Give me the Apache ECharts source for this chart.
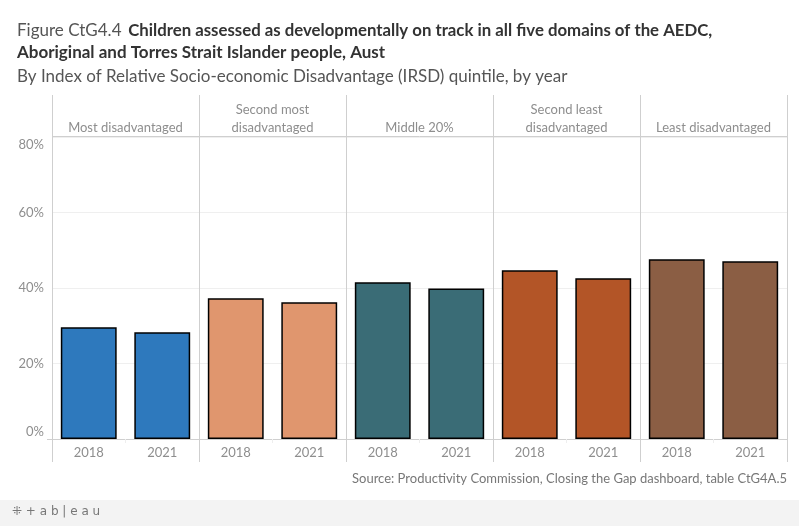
<!DOCTYPE html>
<html><head><meta charset="utf-8">
<script src="https://cdn.jsdelivr.net/npm/echarts@6/dist/echarts.min.js"></script>
<style>html,body{margin:0;padding:0;background:#fff}#c{width:799px;height:526px}</style>
</head><body><div id="c"></div>
<script>
const quintiles = ['Most disadvantaged', 'Second most\ndisadvantaged', 'Middle 20%', 'Second least\ndisadvantaged', 'Least disadvantaged'];
const years = ['2018', '2021'];
const values2018 = [29.6, 37.3, 41.5, 44.7, 47.6];
const values2021 = [28.3, 36.2, 39.9, 42.6, 47.1];
const colors = ['#2e79bd', '#e0966e', '#3a6c76', '#b35527', '#8b5e44'];
const yTicks = [0, 20, 40, 60, 80];

const FONT = 'Lato';
const chart = echarts.init(document.getElementById('c'), null, {renderer: 'canvas'});
const L0 = 52, PW = 147, TOP = 137, H = 302, HEAD = 95, BOT = 462;

const grids = [], xAxes = [], yAxes = [], series = [], graphics = [];
quintiles.forEach((q, i) => {
  grids.push({left: L0 + PW * i, width: PW, top: TOP, height: H, containLabel: false});
  xAxes.push({
    type: 'category', gridIndex: i, data: years,
    axisLine: {show: true, lineStyle: {color: '#cfcfcf', width: 1}},
    axisTick: {show: true, alignWithLabel: false, length: 4, lineStyle: {color: '#eeeeee'}},
    axisLabel: {color: '#8e8e8e', fontSize: 13, fontFamily: FONT, margin: 7, interval: 0},
  });
  yAxes.push({
    type: 'value', gridIndex: i, min: yTicks[0], max: yTicks[yTicks.length - 1], interval: 20,
    axisLine: {show: false}, axisTick: {show: false},
    axisLabel: {show: i === 0, color: '#8e8e8e', fontSize: 13, fontFamily: FONT, margin: 8,
      formatter: v => v === 80 ? '{dn|' + v + '%}' : (v === 0 ? '{up|' + v + '%}' : v + '%'),
      rich: {
        dn: {color: '#8e8e8e', fontSize: 13, fontFamily: FONT, padding: [16, 0, 0, 0]},
        up: {color: '#8e8e8e', fontSize: 13, fontFamily: FONT, padding: [0, 0, 14, 0]},
      }},
    splitLine: {show: true, lineStyle: {color: '#efefef', width: 1}},
  });
  series.push({
    type: 'bar', xAxisIndex: i, yAxisIndex: i,
    data: [values2018[i], values2021[i]],
    barWidth: '76%',
    itemStyle: {color: colors[i], borderColor: '#000', borderWidth: 1.5},
    silent: true,
  });
  graphics.push({
    type: 'text', x: L0 + PW * i + PW / 2, y: 137,
    style: {text: q, textAlign: 'center', textVerticalAlign: 'bottom', align: 'center', verticalAlign: 'bottom',
      fill: '#8e8e8e', fontSize: 13, fontFamily: FONT, lineHeight: 18}
  });
});

// panel separators & header line
for (let i = 0; i <= quintiles.length; i++) {
  graphics.push({type: 'line', shape: {x1: L0 + PW * i + 0.5, y1: HEAD, x2: L0 + PW * i + 0.5, y2: BOT},
    style: {stroke: '#cfcfcf', lineWidth: 1}, z: 10});
}
graphics.push({type: 'line', shape: {x1: L0, y1: TOP - 0.5, x2: L0 + PW * 5, y2: TOP - 0.5},
  style: {stroke: '#cfcfcf', lineWidth: 1}, z: 10});
graphics.push({type: 'line', shape: {x1: 47, y1: TOP + H + 0.5, x2: L0, y2: TOP + H + 0.5},
  style: {stroke: '#cfcfcf', lineWidth: 1}, z: 10});

// titles
graphics.push({type: 'text', left: 17, top: 22, style: {
  rich: {r: {fontFamily: FONT, fontSize: 17, fill: '#555'}, b: {fontFamily: FONT, fontSize: 16.8, fontWeight: 'bold', fill: '#333'}},
  text: '{r|Figure CtG4.4}  {b|Children assessed as developmentally on track in all five domains of the AEDC,}'}});
graphics.push({type: 'text', left: 17, top: 44, style: {
  text: 'Aboriginal and Torres Strait Islander people, Aust', fontFamily: FONT, fontSize: 17, fontWeight: 'bold', fill: '#333'}});
graphics.push({type: 'text', left: 17, top: 68, style: {
  text: 'By Index of Relative Socio-economic Disadvantage (IRSD) quintile, by year', fontFamily: FONT, fontSize: 17, fill: '#555'}});
graphics.push({type: 'text', right: 12, top: 472, style: {
  text: 'Source: Productivity Commission, Closing the Gap dashboard, table CtG4A.5', fontFamily: FONT, fontSize: 13, fill: '#777'}});
graphics.push({type: 'rect', left: 0, top: 500, shape: {width: 799, height: 26}, style: {fill: '#f3f3f3'}, z: -1});
graphics.push({type: 'text', left: 12, top: 506, style: {
  text: '⁜ + a b | e a u', fontFamily: 'DejaVu Sans', fontSize: 12, fill: '#777'}});

chart.setOption({
  animation: false,
  backgroundColor: '#fff',
  grid: grids, xAxis: xAxes, yAxis: yAxes, series: series, graphic: graphics,
});
</script></body></html>
